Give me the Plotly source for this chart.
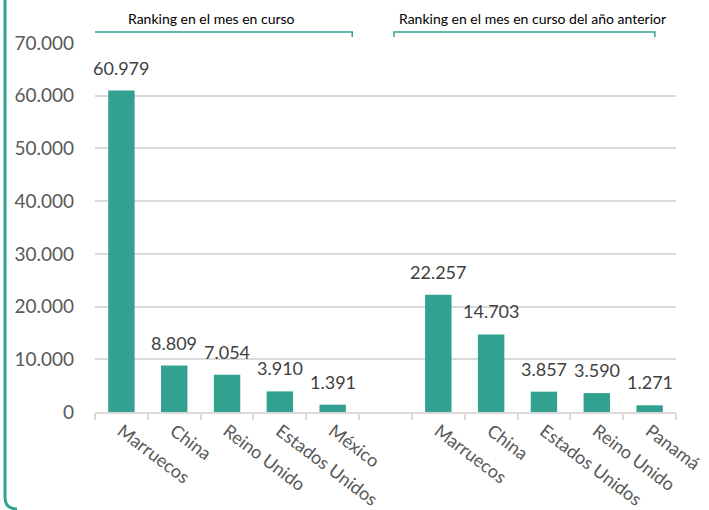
import plotly.graph_objects as go

# Ranking en el mes en curso
paises_actual = ["Marruecos", "China", "Reino Unido", "Estados Unidos", "México"]
valores_actual = [60979, 8809, 7054, 3910, 1391]

# Ranking en el mes en curso del año anterior
paises_anterior = ["Marruecos", "China", "Estados Unidos", "Reino Unido", "Panamá"]
valores_anterior = [22257, 14703, 3857, 3590, 1271]

titulos_grupos = ["Ranking en el mes en curso", "Ranking en el mes en curso del año anterior"]

y_ticks = [0, 10000, 20000, 30000, 40000, 50000, 60000, 70000]

VERDE = "#33A190"
GRIS_TEXTO = "#595959"
GRIS_LINEA = "#D9D9D9"
FUENTE = "Lato"

W, H = 709, 510
M = dict(l=95, r=33, t=43, b=98)


def miles(v):
    return f"{v:,}".replace(",", ".")


# one empty slot between the two groups
x_actual = list(range(len(paises_actual)))
x_anterior = [len(paises_actual) + 1 + i for i in range(len(paises_anterior))]
x_todos = x_actual + x_anterior
nombres = paises_actual + paises_anterior
valores = valores_actual + valores_anterior

fig = go.Figure()
fig.add_trace(go.Bar(
    x=x_todos,
    y=valores,
    marker=dict(color=VERDE, line=dict(width=0)),
    hoverinfo="skip",
))

# data labels
for x, v in zip(x_todos, valores):
    fig.add_annotation(
        x=x, y=v, text=miles(v), showarrow=False,
        yanchor="bottom", yshift=10,
        font=dict(family=FUENTE, size=18, color="#404040"),
    )

pw = W - M["l"] - M["r"]
ph = H - M["t"] - M["b"]

# brackets with the group titles above the plot
# (left pad, right pad, title offset) relative to each group's first/last bar
ajustes = [(-0.56, 0.37, -0.2), (-0.84, 0.10, 0.15)]
grupos = [x_actual, x_anterior]
for xs, titulo, (p0, p1, dt) in zip(grupos, titulos_grupos, ajustes):
    x0, x1 = xs[0] + p0, xs[-1] + p1
    top = 1 + 11 / ph
    bottom = 1 + 6 / ph
    fig.add_shape(
        type="path", xref="x", yref="paper",
        path=f"M {x0},{bottom} L {x0},{top} L {x1},{top} L {x1},{bottom}",
        line=dict(color=VERDE, width=1.5),
    )
    fig.add_annotation(
        x=(x0 + x1) / 2 + dt, y=top, xref="x", yref="paper",
        text=titulo, showarrow=False, yanchor="bottom", yshift=3,
        font=dict(family=FUENTE, size=14, color="#000000"),
    )

# teal left border of the card (rounded bottom corner)
bx = (5 - M["l"]) / pw
ytop = (H - M["b"]) / ph
ybot = (H - M["b"] - 509) / ph
ycurve = (H - M["b"] - 497) / ph
bx2 = (17 - M["l"]) / pw
fig.add_shape(
    type="path", xref="paper", yref="paper",
    path=f"M {bx},{ytop} L {bx},{ycurve} Q {bx},{ybot} {bx2},{ybot}",
    line=dict(color=VERDE, width=3),
)

n = len(x_todos) + 1
fig.update_layout(
    width=W, height=H,
    margin=M,
    paper_bgcolor="white",
    plot_bgcolor="white",
    showlegend=False,
    bargap=0.5,
    xaxis=dict(
        range=[-0.5, n - 0.5],
        automargin=False,
        tickmode="array",
        tickvals=x_todos,
        ticktext=nombres,
        tickangle=37,
        ticks="",
        showgrid=False,
        showline=True,
        linecolor=GRIS_LINEA,
        linewidth=1.5,
        zeroline=False,
        tickfont=dict(family=FUENTE, size=18, color=GRIS_TEXTO),
        minor=dict(
            tickmode="array",
            tickvals=[i - 0.5 for i in range(n + 1)],
            ticks="outside",
            ticklen=6,
            tickwidth=1.5,
            tickcolor=GRIS_LINEA,
            showgrid=False,
        ),
        fixedrange=True,
    ),
    yaxis=dict(
        range=[0, 70000],
        automargin=False,
        tickmode="array",
        tickvals=y_ticks,
        ticktext=[miles(v) for v in y_ticks],
        showgrid=True,
        gridcolor=GRIS_LINEA,
        gridwidth=1.5,
        zeroline=False,
        ticks="",
        ticklabelstandoff=20,
        tickfont=dict(family=FUENTE, size=19, color=GRIS_TEXTO),
        fixedrange=True,
    ),
)

# the page body has a default 8px margin; remove it so the figure fills the window
fig.write_html(
    "out.html",
    config={"displayModeBar": False},
    post_script="document.body.style.margin='0';document.body.style.overflow='hidden';",
)
